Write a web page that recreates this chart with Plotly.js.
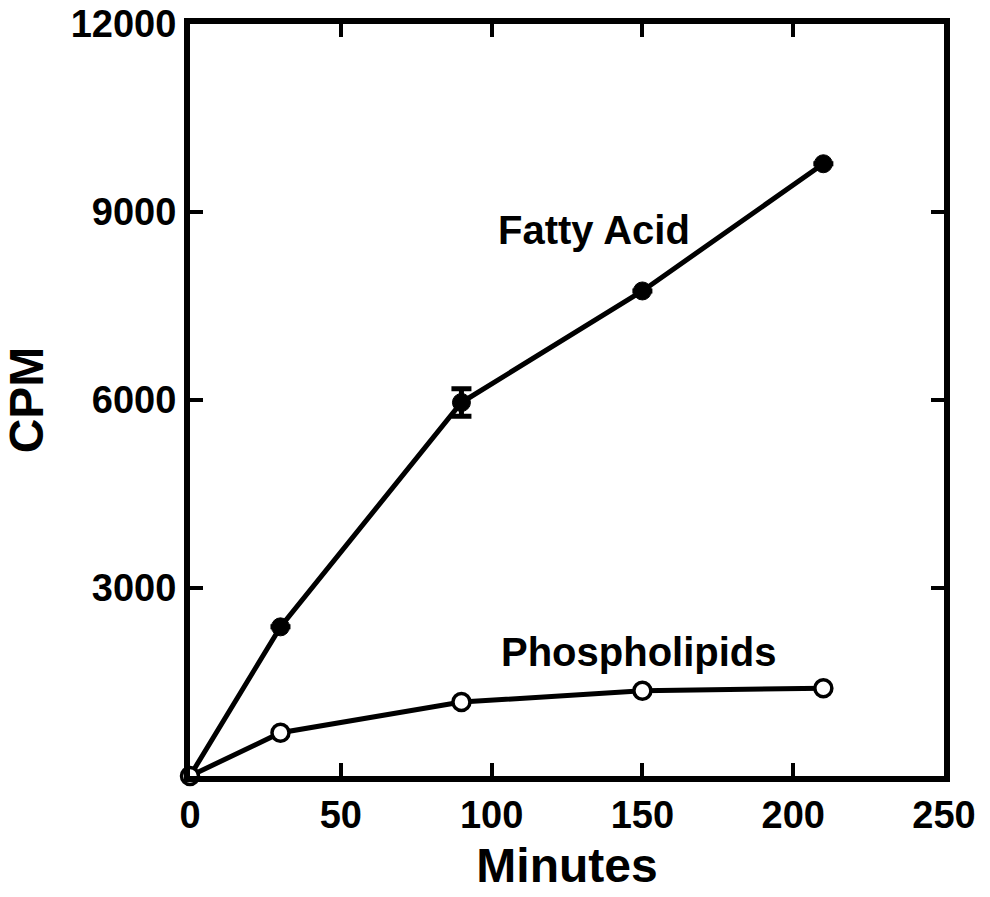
<!DOCTYPE html>
<html>
<head>
<meta charset="utf-8">
<script src="https://cdn.plot.ly/plotly-3.0.1.min.js"></script>
<style>html,body{margin:0;padding:0;background:#fff;}#chart{width:990px;height:897px;}</style>
</head>
<body>
<div id="chart"></div>
<script>
const minutes = [0, 30, 90, 150, 210];
const fattyAcid = [0, 2380, 5960, 7740, 9770];
const fattyAcidErr = [0, 0, 220, 0, 0];
const phospholipids = [0, 690, 1180, 1360, 1400];
const xTicks = [0, 50, 100, 150, 200, 250];
const yTicks = [3000, 6000, 9000, 12000];
const labels = ["Fatty Acid", "Phospholipids"];

const FONT = "Arial, 'Liberation Sans', sans-serif";

const traces = [
  {
    x: minutes, y: fattyAcid, type: 'scatter', mode: 'lines+markers',
    line: {color: '#000', width: 5},
    marker: {color: '#000', size: 18, line: {color: '#000', width: 1}},
    error_y: {type: 'data', array: fattyAcidErr, visible: true, color: '#000', thickness: 5, width: 10},
    cliponaxis: false, showlegend: false
  },
  {
    x: minutes, y: phospholipids, type: 'scatter', mode: 'lines+markers',
    line: {color: '#000', width: 5},
    marker: {color: '#fff', size: 17, line: {color: '#000', width: 3.5}},
    cliponaxis: false, showlegend: false
  }
];

const layout = {
  width: 990, height: 897,
  margin: {l: 190, r: 46, t: 24, b: 121},
  paper_bgcolor: '#fff', plot_bgcolor: '#fff',
  font: {family: FONT, color: '#000'},
  xaxis: {
    range: [0, 250], tickvals: xTicks, ticktext: xTicks.map(String),
    showgrid: false, zeroline: false,
    showline: true, linewidth: 6, linecolor: '#000', mirror: 'ticks',
    ticks: 'inside', ticklen: 13, tickwidth: 4, tickcolor: '#000',
    tickfont: {family: FONT, size: 38, color: '#000', weight: 'bold'},
    title: {text: '<b>Minutes</b>', font: {family: FONT, size: 48, color: '#000'}, standoff: 16}
  },
  yaxis: {
    range: [0, 12000], tickvals: yTicks, ticktext: yTicks.map(String),
    showgrid: false, zeroline: false,
    showline: true, linewidth: 6, linecolor: '#000', mirror: 'ticks',
    ticks: 'inside', ticklen: 13, tickwidth: 4, tickcolor: '#000',
    tickfont: {family: FONT, size: 38, color: '#000', weight: 'bold'},
    title: {text: '<b>CPM</b>', font: {family: FONT, size: 48, color: '#000'}, standoff: 20}
  },
  annotations: [
    {x: 134, y: 8720, xref: 'x', yref: 'y', text: '<b>' + labels[0] + '</b>', showarrow: false,
     font: {family: FONT, size: 40, color: '#000'}},
    {x: 149, y: 1980, xref: 'x', yref: 'y', text: '<b>' + labels[1] + '</b>', showarrow: false,
     font: {family: FONT, size: 40, color: '#000'}}
  ]
};

Plotly.newPlot('chart', traces, layout, {displayModeBar: false, staticPlot: true});
</script>
</body>
</html>
